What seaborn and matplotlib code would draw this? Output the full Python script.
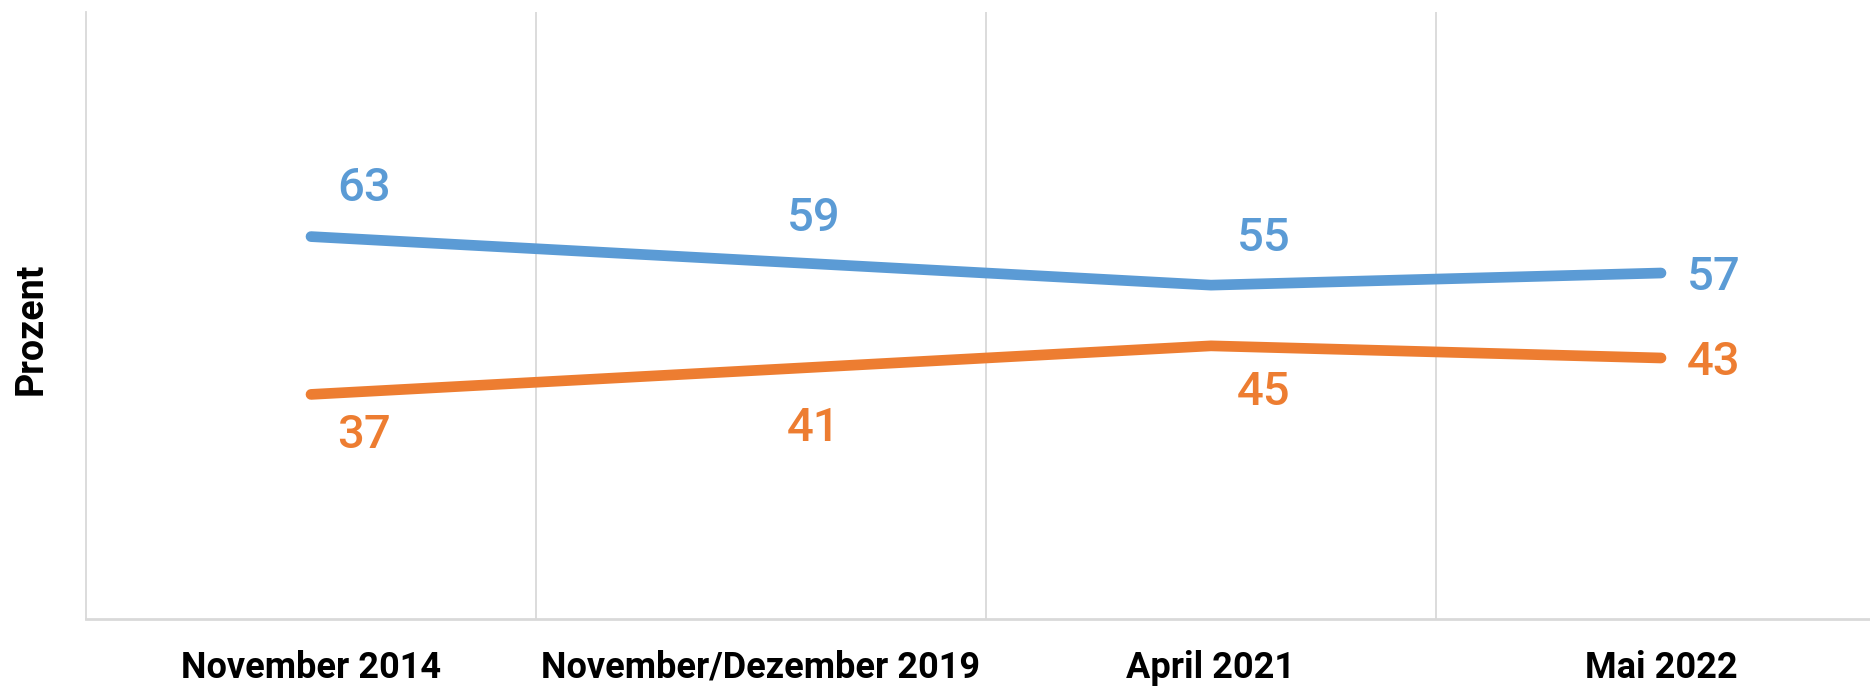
import pandas as pd
import matplotlib.pyplot as plt
import seaborn as sns

sns.set_theme(style="white")
plt.rcParams['font.family'] = ['Roboto', 'DejaVu Sans']

# Data
zeitpunkte = ["November 2014", "November/Dezember 2019", "April 2021", "Mai 2022"]
werte_blau = [63, 59, 55, 57]
werte_orange = [37, 41, 45, 43]

blau = "#5B9BD5"
orange = "#ED7D31"

# label offsets (points, positive = up)
dy_blau = [35, 31, 34, -3]
dy_orange = [-29, -42, -33, -3]

df = pd.DataFrame({
    "zeitpunkt": zeitpunkte * 2,
    "x": list(range(len(zeitpunkte))) * 2,
    "wert": werte_blau + werte_orange,
    "reihe": ["blau"] * len(zeitpunkte) + ["orange"] * len(zeitpunkte),
})

fig = plt.figure(figsize=(18.7, 6.88), dpi=100)
ax = fig.add_axes([86 / 1870, 1 - 619 / 688, 1800 / 1870, 607 / 688])

sns.lineplot(data=df, x="x", y="wert", hue="reihe",
             palette={"blau": blau, "orange": orange},
             linewidth=7.7, solid_capstyle="round", legend=False, ax=ax)

ax.set_xlim(-0.5, len(zeitpunkte) - 0.5)
ax.set_ylim(0, 100)

# category boundaries as vertical grid lines
for b in range(1, len(zeitpunkte)):
    ax.axvline(b - 0.5, color="#D9D9D9", linewidth=1.3, zorder=0)

ax.set_xticks(range(len(zeitpunkte)))
ax.set_xticklabels(zeitpunkte, fontsize=26, fontweight="bold", color="black")
ax.tick_params(axis="x", length=0, pad=22)
ax.set_yticks([])
ax.set_xlabel("")
ax.set_ylabel("Prozent", fontsize=27, fontweight="bold", color="black")
ax.yaxis.set_label_coords(-0.0200, 0.478)

for side in ["top", "right"]:
    ax.spines[side].set_visible(False)
ax.spines["left"].set_color("#D9D9D9")
ax.spines["left"].set_linewidth(1.3)
ax.spines["bottom"].set_color("#D9D9D9")
ax.spines["bottom"].set_linewidth(2)

# data labels
for i in range(len(zeitpunkte)):
    ax.annotate(str(werte_blau[i]), (i, werte_blau[i]), xytext=(38, dy_blau[i]),
                textcoords="offset points", ha="center", va="center",
                fontsize=34, fontweight="medium", color=blau)
    ax.annotate(str(werte_orange[i]), (i, werte_orange[i]), xytext=(38, dy_orange[i]),
                textcoords="offset points", ha="center", va="center",
                fontsize=34, fontweight="medium", color=orange)

fig.savefig("out.png", dpi=100)
